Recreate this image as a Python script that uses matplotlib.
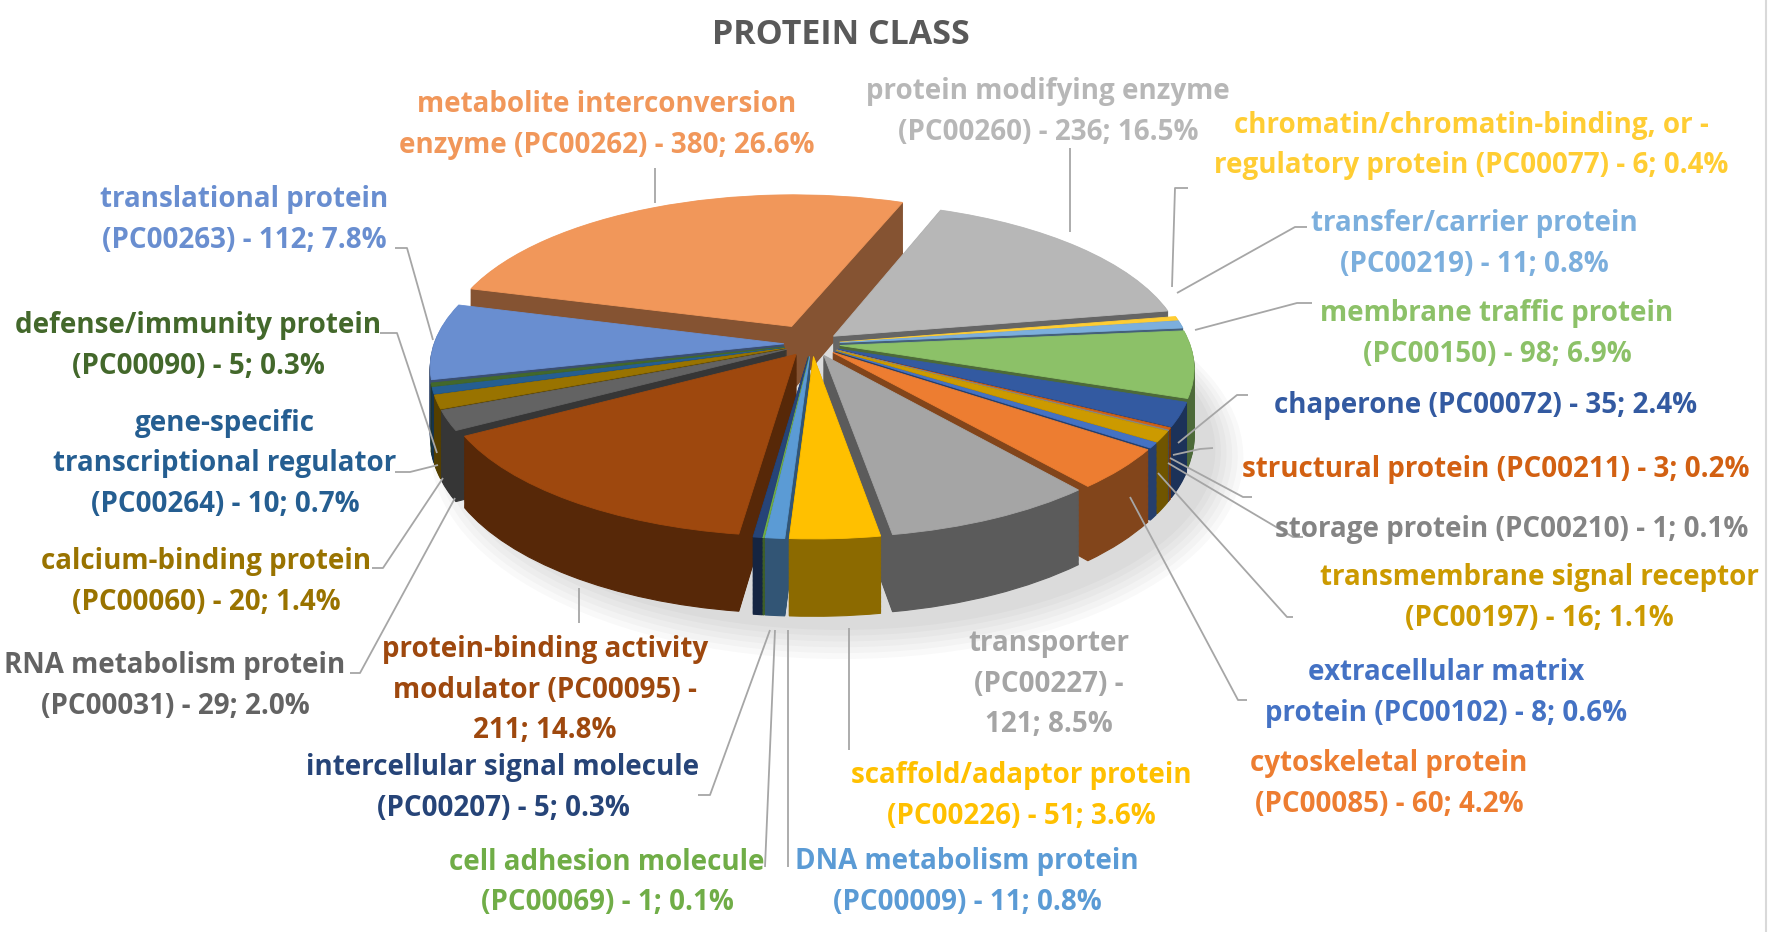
import numpy as np
import matplotlib
matplotlib.use("Agg")
import matplotlib.pyplot as plt
from matplotlib.colors import to_rgb
from matplotlib.patches import Ellipse
from matplotlib.transforms import Transform, Affine2D

# ---------------- data (Excel series order) ----------------
names = ["extracellular matrix protein", "cytoskeletal protein", "transporter",
         "scaffold/adaptor protein", "DNA metabolism protein", "cell adhesion molecule",
         "intercellular signal molecule", "protein-binding activity modulator",
         "RNA metabolism protein", "calcium-binding protein",
         "gene-specific transcriptional regulator", "defense/immunity protein",
         "translational protein", "metabolite interconversion enzyme",
         "protein modifying enzyme", "chromatin/chromatin-binding, or -regulatory protein",
         "transfer/carrier protein", "membrane traffic protein", "chaperone",
         "structural protein", "storage protein", "transmembrane signal receptor"]
counts = [8, 60, 121, 51, 11, 1, 5, 211, 29, 20, 10, 5, 112, 380, 236, 6, 11, 98, 35, 3, 1, 16]
percents = [0.6, 4.2, 8.5, 3.6, 0.8, 0.1, 0.3, 14.8, 2.0, 1.4, 0.7, 0.3, 7.8, 26.6,
            16.5, 0.4, 0.8, 6.9, 2.4, 0.2, 0.1, 1.1]
colors = ["#4472C4", "#ED7D31", "#A5A5A5", "#FFC000", "#5B9BD5", "#70AD47",
          "#264478", "#9E480E", "#636363", "#997300", "#255E91", "#43682B",
          "#698ED0", "#F1975A", "#B7B7B7", "#FFCD33", "#7CAFDD", "#8CC168",
          "#335AA1", "#D26012", "#848484", "#CC9A00"]
labels = [
    "extracellular matrix\nprotein (PC00102) - 8; 0.6%",
    "cytoskeletal protein\n(PC00085) - 60; 4.2%",
    "transporter\n(PC00227) -\n121; 8.5%",
    "scaffold/adaptor protein\n(PC00226) - 51; 3.6%",
    "DNA metabolism protein\n(PC00009) - 11; 0.8%",
    "cell adhesion molecule\n(PC00069) - 1; 0.1%",
    "intercellular signal molecule\n(PC00207) - 5; 0.3%",
    "protein-binding activity\nmodulator (PC00095) -\n211; 14.8%",
    "RNA metabolism protein\n(PC00031) - 29; 2.0%",
    "calcium-binding protein\n(PC00060) - 20; 1.4%",
    "gene-specific\ntranscriptional regulator\n(PC00264) - 10; 0.7%",
    "defense/immunity protein\n(PC00090) - 5; 0.3%",
    "translational protein\n(PC00263) - 112; 7.8%",
    "metabolite interconversion\nenzyme (PC00262) - 380; 26.6%",
    "protein modifying enzyme\n(PC00260) - 236; 16.5%",
    "chromatin/chromatin-binding, or -\nregulatory protein (PC00077) - 6; 0.4%",
    "transfer/carrier protein\n(PC00219) - 11; 0.8%",
    "membrane traffic protein\n(PC00150) - 98; 6.9%",
    "chaperone (PC00072) - 35; 2.4%",
    "structural protein (PC00211) - 3; 0.2%",
    "storage protein (PC00210) - 1; 0.1%",
    "transmembrane signal receptor\n(PC00197) - 16; 1.1%",
]
title = "PROTEIN CLASS"

# ---------------- layout (pixels of the 1772x932 image) ----------------
label_pos = [(1446, 672), (1389, 763), (1049, 643), (1021, 776), (967, 862),
             (607, 862), (503, 768), (545, 649), (175, 665), (206, 562),
             (225, 423), (198, 325), (244, 200), (607, 105), (1048, 91),
             (1471, 125), (1474, 223), (1497, 313), (1486, 405), (1496, 470),
             (1512, 530), (1539, 577)]
leaders = [
    [(1293, 617), (1287, 617), (1158, 473)],
    [(1247, 700), (1238, 700), (1130, 497)],
    None,
    [(849, 750), (849, 628)],
    [(788, 867), (788, 630)],
    [(765, 867), (775, 630)],
    [(698, 795), (710, 795), (770, 630)],
    [(579, 623), (579, 588)],
    [(350, 673), (360, 673), (455, 498)],
    [(372, 568), (383, 568), (443, 478)],
    [(395, 472), (410, 472), (438, 465)],
    [(380, 333), (397, 333), (437, 453)],
    [(395, 248), (407, 248), (433, 340)],
    [(655, 168), (655, 203)],
    [(1070, 148), (1070, 232)],
    [(1188, 188), (1175, 188), (1172, 287)],
    [(1307, 227), (1295, 227), (1177, 293)],
    [(1312, 303), (1297, 303), (1195, 330)],
    [(1248, 395), (1237, 395), (1178, 443)],
    [(1213, 448), (1200, 449), (1173, 455)],
    [(1252, 497), (1243, 497), (1170, 458)],
    [(1303, 537), (1293, 537), (1168, 463)],
]
explode = [0.08] * len(counts)
explode[13] = 0.13
start_angle = -33

plt.rcParams['font.family'] = ['Open Sans', 'DejaVu Sans']

W, H = 1772, 932
fig = plt.figure(figsize=(W / 100, H / 100), dpi=100)
fig.patch.set_facecolor("white")

# ---------------- 3-D view of the pie (perspective of a tilted disc) ----------------
CX, CY = 812, 344          # projected pie centre (pixels, y down)
SX, SY, PERSP = 350, 154, 0.136
DEPTH = 66                 # slice thickness in pixels (at the centre distance)


class PieView(Transform):
    """Projects pie coordinates (x, y, with y pointing away from the viewer)
    at height z onto the figure, with perspective."""
    input_dims = output_dims = 2

    def __init__(self, z):
        super().__init__()
        self.z = z

    def transform_non_affine(self, values):
        v = np.asarray(values, dtype=float)
        x, y = v[:, 0], v[:, 1]
        w = 1.0 / (1.0 + PERSP * y)
        return np.column_stack([SX * x * w, (SY * y + self.z) * w])


tail = Affine2D().translate(CX, H - CY).scale(1.0 / W, 1.0 / H) + fig.transFigure

axp = fig.add_axes([0, 0, 1, 1])
axp.axis("off")

# soft shadow under the pie
for k in range(6):
    e = Ellipse((0.07, -0.06), 2.12 + 0.03 * k, 2.14 + 0.05 * k,
                facecolor="black", alpha=0.025, lw=0)
    axp.add_patch(e)
    e.set_transform(PieView(-DEPTH - 2) + tail)
    e.set_clip_on(False)
    e.set_zorder(0)

side_colors = [tuple(0.55 * c for c in to_rgb(col)) for col in colors]
nl = 60
for z in np.linspace(-DEPTH, 0, nl, endpoint=False):
    wedges, _ = axp.pie(counts, explode=explode, colors=side_colors,
                        startangle=start_angle, counterclock=False, frame=False,
                        wedgeprops=dict(linewidth=0.8))
    tr = PieView(z) + tail
    for w, c in zip(wedges, side_colors):
        w.set_transform(tr)
        w.set_edgecolor(c)
        w.set_clip_on(False)
        w.set_zorder(1)

wedges, _ = axp.pie(counts, explode=explode, colors=colors, startangle=start_angle,
                    counterclock=False, frame=False, wedgeprops=dict(linewidth=0.6))
tr = PieView(0) + tail
for w, c in zip(wedges, colors):
    w.set_transform(tr)
    w.set_edgecolor(c)
    w.set_clip_on(False)
    w.set_zorder(2)
axp.axis("off")

# overlay axes in pixel coordinates for labels and leader lines
ax = fig.add_axes([0, 0, 1, 1], zorder=5)
ax.set_xlim(0, W)
ax.set_ylim(H, 0)
ax.axis("off")
ax.patch.set_alpha(0)

ax.text(841, 35, title, ha="center", va="center", fontsize=24.5, fontweight="bold",
        color="#595959")

line_step = 41
for lab, (x, y), col, ld in zip(labels, label_pos, colors, leaders):
    for i, line in enumerate(lab.split("\n")):
        ax.text(x, y + i * line_step, line, ha="center", va="center", fontsize=20,
                fontweight="bold", color=col)
    if ld is not None:
        xs, ys = zip(*ld)
        ax.plot(xs, ys, color="#A6A6A6", lw=1.3, solid_capstyle="butt")

ax.plot([1766, 1766], [0, H], color="#D9D9D9", lw=1.5)

fig.savefig("out.png", dpi=100, facecolor="white")
